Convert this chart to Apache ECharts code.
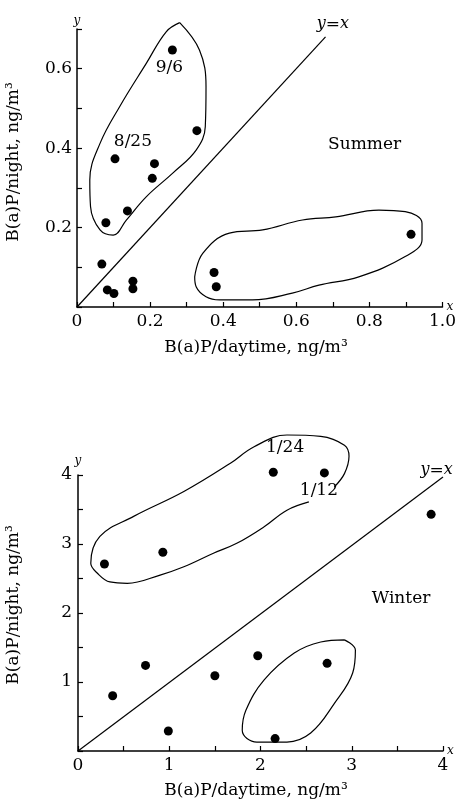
<!DOCTYPE html>
<html>
<head>
<meta charset="utf-8">
<script src="https://cdn.jsdelivr.net/npm/echarts@6/dist/echarts.min.js"></script>
<style>
  html, body { margin: 0; padding: 0; background: #fff; }
  #main { width: 459px; height: 805px; }
</style>
</head>
<body>
<div id="main"></div>
<script>
// summer: daytime vs night B(a)P, ng/m3
var summerPoints = [
  [0.068, 0.108], [0.079, 0.212], [0.104, 0.373], [0.138, 0.242],
  [0.212, 0.361], [0.206, 0.324], [0.261, 0.647], [0.328, 0.444],
  [0.083, 0.043], [0.101, 0.034], [0.153, 0.065], [0.153, 0.046],
  [0.375, 0.087], [0.381, 0.051], [0.914, 0.183]
];
// winter
var winterPoints = [
  [0.29, 2.71], [0.93, 2.88], [0.74, 1.24], [0.38, 0.80],
  [1.50, 1.09], [0.99, 0.29], [2.14, 4.04], [2.70, 4.03],
  [3.87, 3.43], [1.97, 1.38], [2.73, 1.27], [2.16, 0.18]
];
var summerDiagonal = [[0, 0], [0.68, 0.68]];
var winterDiagonal = [[0, 0], [4.0, 3.97]];

// hand-drawn group outlines
var summerLoopUpper = [
  [0.281, 0.716], [0.335, 0.647], [0.353, 0.555], [0.351, 0.454], [0.326, 0.395],
  [0.262, 0.337], [0.190, 0.278], [0.135, 0.219], [0.099, 0.181], [0.063, 0.194],
  [0.037, 0.253], [0.035, 0.320], [0.063, 0.412], [0.117, 0.505], [0.190, 0.614],
  [0.244, 0.693], [0.281, 0.716]
];
var summerLoopLower = [
  [0.322, 0.076], [0.344, 0.135], [0.417, 0.186], [0.508, 0.194], [0.617, 0.219],
  [0.708, 0.227], [0.826, 0.244], [0.898, 0.240], [0.944, 0.211], [0.944, 0.169],
  [0.898, 0.127], [0.771, 0.076], [0.662, 0.055], [0.589, 0.035], [0.480, 0.018],
  [0.390, 0.018], [0.353, 0.026], [0.326, 0.051], [0.322, 0.076]
];
var winterLoopUpper = [
  [2.53, 3.61], [2.29, 3.49], [2.04, 3.25], [1.74, 3.01], [1.49, 2.87],
  [1.16, 2.67], [0.90, 2.55], [0.54, 2.43], [0.35, 2.45], [0.21, 2.58],
  [0.14, 2.72], [0.24, 3.11], [0.61, 3.40], [1.16, 3.76], [1.67, 4.17],
  [1.93, 4.41], [2.29, 4.58], [2.66, 4.56], [2.92, 4.43], [2.97, 4.27],
  [2.92, 4.02], [2.81, 3.83]
];
var winterLoopLower = [
  [2.92, 1.61], [3.04, 1.46], [3.01, 1.13], [2.81, 0.69], [2.55, 0.26],
  [2.29, 0.13], [1.96, 0.13], [1.80, 0.30], [1.84, 0.59], [2.04, 1.03],
  [2.37, 1.42], [2.66, 1.58], [2.92, 1.61]
];

var summerNotes = [
  { name: '9/6', value: [0.253, 0.602] },
  { name: '8/25', value: [0.153, 0.416] },
  { name: 'Summer', value: [0.787, 0.41] },
  { name: '{i|y}={i|x}', value: [0.70, 0.712] }
];
var winterNotes = [
  { name: '1/24', value: [2.27, 4.40] },
  { name: '1/12', value: [2.64, 3.78] },
  { name: 'Winter', value: [3.54, 2.21] },
  { name: '{i|y}={i|x}', value: [3.93, 4.07] }
];

var serif = '"DejaVu Serif", "Liberation Serif", serif';
var chart = echarts.init(document.getElementById('main'));

function axisBase(min, max, interval, fmt) {
  return {
    type: 'value',
    min: min,
    max: max,
    interval: interval,
    splitLine: { show: false },
    axisLine: { lineStyle: { color: '#000', width: 1.5 } },
    axisTick: { inside: true, length: 5, lineStyle: { color: '#000', width: 1.2 } },
    minorTick: { show: true, splitNumber: 2, length: 5, lineStyle: { color: '#000', width: 1.2 } },
    axisLabel: { color: '#000', fontFamily: serif, fontSize: 17, formatter: fmt },
    nameTextStyle: { color: '#000', fontFamily: serif, fontStyle: 'italic', fontSize: 12 }
  };
}

function fmtDec(v) {
  if (v === 0) return '0';
  if (Math.abs(Math.round(v * 5) - v * 5) > 1e-6) return '';
  return v.toFixed(1);
}
function fmtInt(v) { return String(v); }

var xTop = axisBase(0, 1.0, 0.2, fmtDec);
xTop.gridIndex = 0; xTop.name = 'x'; xTop.nameGap = 4;
xTop.axisLabel.margin = 6;
var yTop = axisBase(0, 0.7, 0.2, fmtDec);
yTop.gridIndex = 0; yTop.name = 'y'; yTop.nameGap = 2;
yTop.axisLabel.showMinLabel = false; yTop.axisLabel.margin = 5;

var xBot = axisBase(0, 4, 1, fmtInt);
xBot.gridIndex = 1; xBot.name = 'x'; xBot.nameGap = 4;
xBot.axisLabel.margin = 6;
var yBot = axisBase(0, 4, 1, fmtInt);
yBot.gridIndex = 1; yBot.name = 'y'; yBot.nameGap = 2;
yBot.axisLabel.showMinLabel = false; yBot.axisLabel.margin = 6;

function dots(data, idx) {
  return {
    type: 'scatter', xAxisIndex: idx, yAxisIndex: idx, data: data,
    symbolSize: 9, clip: false, itemStyle: { color: '#000', opacity: 1 }, z: 5
  };
}
function curve(data, idx, smooth) {
  return {
    type: 'line', xAxisIndex: idx, yAxisIndex: idx, data: data,
    smooth: smooth, showSymbol: false, clip: false, silent: true,
    lineStyle: { color: '#000', width: 1.2 }
  };
}
function notes(data, idx) {
  return {
    type: 'scatter', xAxisIndex: idx, yAxisIndex: idx, data: data,
    symbolSize: 0, clip: false, silent: true,
    itemStyle: { color: '#000', opacity: 1 },
    label: {
      show: true, position: 'inside', color: '#000', fontFamily: serif, fontSize: 17,
      formatter: function (p) { return p.name; },
      rich: { i: { fontStyle: 'italic', fontFamily: serif, fontSize: 16, color: '#000' } }
    }
  };
}

var titleFont = '17px ' + serif;
var option = {
  backgroundColor: '#fff',
  animation: false,
  grid: [
    { left: 77, right: 16, top: 29, bottom: 498 },
    { left: 78, right: 16, top: 475, bottom: 54 }
  ],
  xAxis: [xTop, xBot],
  yAxis: [yTop, yBot],
  graphic: [
    { type: 'text', x: 256, y: 348, style: { text: 'B(a)P/daytime, ng/m\u00b3', font: titleFont, fill: '#000', align: 'center', verticalAlign: 'middle' } },
    { type: 'text', x: 256, y: 791, style: { text: 'B(a)P/daytime, ng/m\u00b3', font: titleFont, fill: '#000', align: 'center', verticalAlign: 'middle' } },
    { type: 'text', x: 14, y: 162, rotation: Math.PI / 2, style: { text: 'B(a)P/night, ng/m\u00b3', font: titleFont, fill: '#000', align: 'center', verticalAlign: 'middle' } },
    { type: 'text', x: 14, y: 605, rotation: Math.PI / 2, style: { text: 'B(a)P/night, ng/m\u00b3', font: titleFont, fill: '#000', align: 'center', verticalAlign: 'middle' } }
  ],
  series: [
    dots(summerPoints, 0),
    curve(summerDiagonal, 0, false),
    curve(summerLoopUpper, 0, 0.4),
    curve(summerLoopLower, 0, 0.4),
    notes(summerNotes, 0),
    dots(winterPoints, 1),
    curve(winterDiagonal, 1, false),
    curve(winterLoopUpper, 1, 0.4),
    curve(winterLoopLower, 1, 0.4),
    notes(winterNotes, 1)
  ]
};
chart.setOption(option);
</script>
</body>
</html>
